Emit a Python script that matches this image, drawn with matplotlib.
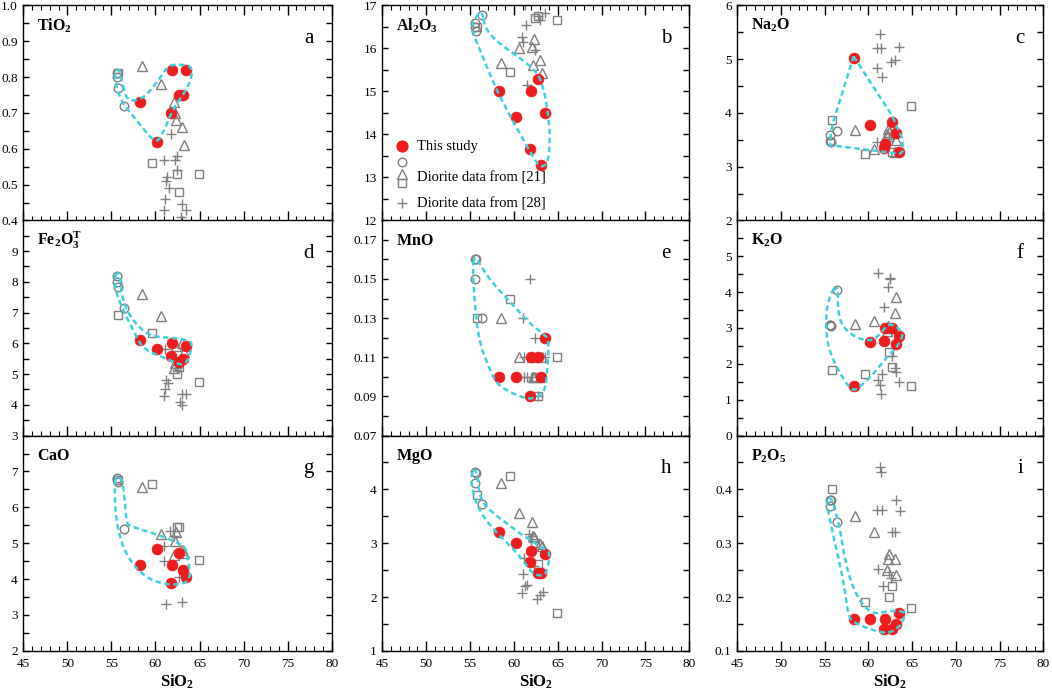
import numpy as np
import matplotlib
matplotlib.use("Agg")
import matplotlib.pyplot as plt
from matplotlib.ticker import FixedLocator, MultipleLocator

plt.rcParams['font.family'] = ['Liberation Serif', 'DejaVu Serif']
plt.rcParams['mathtext.fontset'] = 'custom'
plt.rcParams['mathtext.rm'] = 'Liberation Serif'
plt.rcParams['mathtext.bf'] = 'Liberation Serif:bold'

# ---- data ----
SIO2_THIS = [58.3, 60.2, 61.8, 61.9, 62.7, 63.1, 63.5]
TIO2_THIS = [0.73, 0.62, 0.70, 0.82, 0.75, 0.75, 0.82]
AL2O3_THIS = [15.0, 14.4, 13.66, 15.0, 15.28, 13.3, 14.5]
NA2O_THIS = [5.02, 3.78, 3.35, 3.42, 3.84, 3.63, 3.27]
FE2O3_THIS = [6.1, 5.8, 5.58, 6.0, 5.4, 5.5, 5.92]
MNO_THIS = [0.10, 0.10, 0.09, 0.11, 0.11, 0.10, 0.12]
K2O_THIS = [1.38, 2.6, 2.63, 3.0, 3.0, 2.55, 2.78]
CAO_THIS = [4.4, 4.85, 3.9, 4.4, 4.74, 4.26, 4.06]
MGO_THIS = [3.2, 3.0, 2.65, 2.85, 2.45, 2.45, 2.8]
P2O5_THIS = [0.16, 0.16, 0.14, 0.16, 0.14, 0.15, 0.17]

SIO2_CIRC = [55.6, 55.6, 55.7, 56.4]
TIO2_CIRC = [0.81, 0.80, 0.77, 0.72]
AL2O3_CIRC = [16.6, 16.5, 16.4, 16.78]
NA2O_CIRC = [3.58, 3.48, 3.45, 3.66]
FE2O3_CIRC = [8.2, 8.0, 7.82, 7.15]
MNO_CIRC = [0.16, 0.15, 0.16, 0.13]
K2O_CIRC = [3.07, 3.08, 3.06, 4.07]
CAO_CIRC = [6.82, 6.75, 6.72, 5.4]
MGO_CIRC = [4.32, 4.12, 4.3, 3.72]
P2O5_CIRC = [0.38, 0.37, 0.38, 0.34]

SIO2_TRI = [58.5, 60.6, 62.1, 62.2, 62.3, 63.0, 63.2]
TIO2_TRI = [0.83, 0.78, 0.73, 0.70, 0.68, 0.66, 0.61]
AL2O3_TRI = [15.66, 16.0, 16.04, 15.61, 16.22, 15.73, 15.43]
NA2O_TRI = [3.68, 3.32, 3.6, 3.71, 3.65, 3.27, 3.49]
FE2O3_TRI = [7.6, 6.88, 5.2, 5.35, 5.9, 6.0, 5.7]
MNO_TRI = [0.13, 0.11, 0.11, 0.10, 0.10, 0.10, 0.11]
K2O_TRI = [3.1, 3.19, 2.9, 3.05, 3.0, 3.41, 3.86]
CAO_TRI = [6.56, 5.26, 4.68, 5.07, 5.31, 4.8, 4.72]
MGO_TRI = [4.12, 3.57, 3.39, 3.13, 3.12, 2.98, 2.95]
P2O5_TRI = [0.35, 0.32, 0.25, 0.27, 0.28, 0.27, 0.24]

SIO2_SQ = [55.8, 59.6, 62.4, 62.7, 64.9]
TIO2_SQ = [0.81, 0.56, 0.53, 0.48, 0.53]
AL2O3_SQ = [16.5, 15.44, 16.7, 16.75, 16.67]
NA2O_SQ = [3.87, 3.24, 3.56, 3.27, 4.13]
FE2O3_SQ = [6.92, 6.33, 4.99, 5.24, 4.73]
MNO_SQ = [0.13, 0.14, 0.10, 0.09, 0.11]
K2O_SQ = [1.83, 1.71, 2.33, 1.9, 1.39]
CAO_SQ = [6.77, 6.66, 5.45, 5.45, 4.52]
MGO_SQ = [3.89, 4.25, 3.0, 2.62, 1.7]
P2O5_SQ = [0.40, 0.19, 0.20, 0.22, 0.18]

TIO2_PLUS_X = [61.8, 61.0, 62.2, 62.4, 62.4, 61.35, 61.16, 61.54, 61.08, 60.97, 63.06, 63.5, 62.87]
TIO2_PLUS_Y = [0.64, 0.57, 0.57, 0.58, 0.54, 0.52, 0.51, 0.49, 0.46, 0.43, 0.445, 0.43, 0.41]
AL2O3_PLUS_X = [61.3, 61.4, 60.9, 61.0, 62.4, 62.8, 63.0, 63.5, 61.5]
AL2O3_PLUS_Y = [17.0, 16.54, 16.27, 16.15, 15.96, 16.75, 16.67, 16.81, 15.14]
NA2O_PLUS_X = [61.3, 61.0, 61.4, 63.5, 62.6, 63.0, 61.0, 61.6, 61.0, 62.4, 61.8]
NA2O_PLUS_Y = [5.46, 5.2, 5.2, 5.22, 4.95, 4.98, 4.83, 4.67, 3.46, 3.55, 3.4]
FE2O3_PLUS_X = [61.24, 61.43, 61.08, 60.97, 63.06, 63.52, 62.8, 63.06, 61.05, 62.4]
FE2O3_PLUS_Y = [4.8, 4.7, 4.52, 4.27, 4.35, 4.35, 4.08, 4.0, 5.8, 5.18]
MNO_PLUS_X = [61.8, 61.0, 62.4, 61.1, 63.6, 61.1, 61.5, 62.1, 62.8]
MNO_PLUS_Y = [0.15, 0.13, 0.12, 0.11, 0.11, 0.10, 0.10, 0.10, 0.09]
K2O_PLUS_X = [61.04, 62.45, 62.45, 62.19, 61.77, 62.72, 63.03, 63.1, 61.5, 61.04, 61.3, 61.42, 63.52]
K2O_PLUS_Y = [4.54, 4.4, 4.35, 4.14, 3.59, 2.22, 1.87, 1.78, 1.71, 1.55, 1.41, 1.16, 1.48]
CAO_PLUS_X = [61.65, 60.97, 62.1, 60.97, 62.68, 61.24, 63.06]
CAO_PLUS_Y = [5.33, 4.91, 5.2, 4.49, 4.07, 3.3, 3.35]
MGO_PLUS_X = [61.7, 62.07, 61.12, 61.04, 61.3, 61.5, 60.93, 63.33, 63.03, 62.65, 62.26]
MGO_PLUS_Y = [3.17, 3.13, 2.73, 2.42, 2.2, 2.23, 2.07, 2.09, 2.04, 1.96, 2.57]
P2O5_PLUS_X = [61.31, 61.43, 61.0, 61.6, 63.14, 63.6, 62.64, 63.03, 61.04, 62.38, 62.57, 61.7]
P2O5_PLUS_Y = [0.441, 0.432, 0.361, 0.361, 0.381, 0.36, 0.32, 0.32, 0.252, 0.247, 0.236, 0.221]

# cyan field outlines (traced)
TIO2_HULL_X = [56.10, 56.60, 58.31, 59.83, 61.35, 62.11, 63.82, 64.16, 64.01, 63.25, 62.11, 61.16, 60.21, 59.07, 57.55, 56.48, 55.95, 55.46, 55.38, 55.84]
TIO2_HULL_Y = [0.808, 0.735, 0.735, 0.773, 0.829, 0.835, 0.833, 0.819, 0.791, 0.754, 0.717, 0.661, 0.614, 0.642, 0.689, 0.719, 0.745, 0.782, 0.815, 0.822]
AL2O3_HULL_X = [56.36, 56.74, 58.07, 60.74, 62.64, 63.33, 63.79, 64.09, 64.06, 63.79, 63.14, 62.64, 61.12, 59.21, 57.69, 56.17, 55.33, 55.21, 55.48, 55.98]
AL2O3_HULL_Y = [16.85, 16.46, 16.15, 15.77, 15.45, 15.11, 14.64, 14.10, 13.63, 13.32, 13.24, 13.32, 13.86, 14.56, 15.18, 15.96, 16.35, 16.50, 16.66, 16.81]
NA2O_HULL_X = [58.3, 62.7, 63.8, 64.0, 63.6, 55.6, 55.7, 56.0]
NA2O_HULL_Y = [5.05, 3.95, 3.55, 3.3, 3.24, 3.40, 3.62, 3.85]
FE2O3_HULL_X = [55.65, 55.38, 55.46, 56.41, 57.55, 58.31, 59.26, 60.59, 62.11, 62.87, 63.63, 64.01, 64.13, 63.82, 62.49, 61.35, 59.83, 58.69, 57.55, 56.60, 56.10, 56.03, 55.84]
FE2O3_HULL_Y = [8.28, 8.21, 7.68, 7.03, 6.38, 5.95, 5.73, 5.57, 5.40, 5.29, 5.40, 5.73, 6.0, 6.08, 6.16, 6.18, 6.22, 6.38, 6.71, 7.14, 7.68, 8.11, 8.28]
MNO_HULL_X = [55.59, 55.29, 55.48, 55.98, 57.31, 58.07, 59.60, 61.50, 62.64, 63.60, 63.86, 63.98, 63.41, 61.88, 59.60, 57.31, 55.98, 55.71]
MNO_HULL_Y = [0.1612, 0.1577, 0.1407, 0.1185, 0.1031, 0.0963, 0.0920, 0.0886, 0.0895, 0.0929, 0.1066, 0.1193, 0.1216, 0.1270, 0.1381, 0.1492, 0.1586, 0.1608]
K2O_HULL_X = [56.36, 55.79, 55.21, 55.14, 55.40, 56.36, 57.50, 58.26, 58.95, 60.55, 62.07, 63.22, 63.79, 63.90, 63.41, 62.64, 62.07, 61.31, 60.55, 59.60, 58.64, 57.50, 56.74, 56.47, 56.55]
K2O_HULL_Y = [4.12, 4.03, 3.56, 3.01, 2.45, 1.90, 1.44, 1.25, 1.34, 1.71, 2.18, 2.45, 2.69, 2.82, 3.01, 3.10, 3.06, 2.82, 2.66, 2.66, 2.73, 2.92, 3.19, 3.66, 4.07]
CAO_HULL_X = [55.57, 55.34, 55.46, 55.84, 56.60, 57.93, 59.45, 60.97, 62.11, 63.44, 63.82, 63.94, 63.63, 63.44, 62.87, 61.35, 59.07, 57.17, 56.71, 56.48, 56.22, 55.84]
CAO_HULL_Y = [6.86, 6.68, 5.84, 5.28, 4.72, 4.26, 3.98, 3.87, 3.84, 3.89, 4.03, 4.17, 4.63, 4.86, 4.96, 5.14, 5.33, 5.47, 5.56, 6.30, 6.77, 6.86]
MGO_HULL_X = [55.48, 55.10, 55.33, 55.98, 57.31, 58.83, 60.36, 61.50, 62.26, 63.41, 63.86, 64.09, 63.79, 62.64, 61.12, 59.60, 58.07, 56.55, 55.98, 55.86]
MGO_HULL_Y = [4.385, 4.25, 3.94, 3.63, 3.32, 3.07, 2.82, 2.57, 2.42, 2.39, 2.51, 2.82, 2.85, 2.98, 3.13, 3.32, 3.50, 3.72, 3.97, 4.28]
P2O5_HULL_X = [55.33, 55.21, 55.98, 57.12, 57.69, 58.26, 60.17, 62.07, 63.22, 63.98, 64.17, 63.60, 62.07, 60.93, 59.79, 58.64, 57.50, 56.74, 56.36, 55.98, 55.59]
P2O5_HULL_Y = [0.385, 0.373, 0.314, 0.233, 0.165, 0.153, 0.140, 0.132, 0.140, 0.155, 0.171, 0.174, 0.174, 0.168, 0.177, 0.202, 0.252, 0.326, 0.351, 0.376, 0.385]

NAMES = [r"$\mathbf{TiO_2}$", r"$\mathbf{Al_2O_3}$", r"$\mathbf{Na_2O}$",
         r"$\mathbf{Fe_2O_3^T}$", r"$\mathbf{MnO}$", r"$\mathbf{K_2O}$",
         r"$\mathbf{CaO}$", r"$\mathbf{MgO}$", r"$\mathbf{P_2O_5}$"]
LETTERS = list("abcdefghi")
YLIMS = [(0.4, 1.0), (12, 17), (2, 6), (3, 10), (0.07, 0.18), (0, 6), (2, 8), (1, 5), (0.1, 0.5)]
YMAJOR = [
    [0.4, 0.5, 0.6, 0.7, 0.8, 0.9, 1.0],
    [12, 13, 14, 15, 16, 17],
    [2, 3, 4, 5, 6],
    [3, 4, 5, 6, 7, 8, 9, 10],
    [0.07, 0.09, 0.11, 0.13, 0.15, 0.17],
    [0, 1, 2, 3, 4, 5, 6],
    [2, 3, 4, 5, 6, 7, 8],
    [1, 2, 3, 4, 5],
    [0.1, 0.2, 0.3, 0.4, 0.5],
]
YMINOR = [0.05, 0.5, 0.5, 0.5, 0.01, 0.5, 0.5, 0.5, 0.05]
YFMT = ["%.1f", "%d", "%d", "%d", "%.2f", "%d", "%d", "%d", "%.1f"]

THIS = [TIO2_THIS, AL2O3_THIS, NA2O_THIS, FE2O3_THIS, MNO_THIS, K2O_THIS, CAO_THIS, MGO_THIS, P2O5_THIS]
CIRC = [TIO2_CIRC, AL2O3_CIRC, NA2O_CIRC, FE2O3_CIRC, MNO_CIRC, K2O_CIRC, CAO_CIRC, MGO_CIRC, P2O5_CIRC]
TRI = [TIO2_TRI, AL2O3_TRI, NA2O_TRI, FE2O3_TRI, MNO_TRI, K2O_TRI, CAO_TRI, MGO_TRI, P2O5_TRI]
SQ = [TIO2_SQ, AL2O3_SQ, NA2O_SQ, FE2O3_SQ, MNO_SQ, K2O_SQ, CAO_SQ, MGO_SQ, P2O5_SQ]
PLUS = [(TIO2_PLUS_X, TIO2_PLUS_Y), (AL2O3_PLUS_X, AL2O3_PLUS_Y), (NA2O_PLUS_X, NA2O_PLUS_Y),
        (FE2O3_PLUS_X, FE2O3_PLUS_Y), (MNO_PLUS_X, MNO_PLUS_Y), (K2O_PLUS_X, K2O_PLUS_Y),
        (CAO_PLUS_X, CAO_PLUS_Y), (MGO_PLUS_X, MGO_PLUS_Y), (P2O5_PLUS_X, P2O5_PLUS_Y)]
HULLS = [(TIO2_HULL_X, TIO2_HULL_Y), (AL2O3_HULL_X, AL2O3_HULL_Y), (NA2O_HULL_X, NA2O_HULL_Y),
         (FE2O3_HULL_X, FE2O3_HULL_Y), (MNO_HULL_X, MNO_HULL_Y), (K2O_HULL_X, K2O_HULL_Y),
         (CAO_HULL_X, CAO_HULL_Y), (MGO_HULL_X, MGO_HULL_Y), (P2O5_HULL_X, P2O5_HULL_Y)]
SMOOTH = [True, True, False, True, True, True, True, True, True]

RED = "#ee1c1c"
GREY = "#808080"
CYAN = "#3cd2e2"


def chaikin(x, y, n):
    # corner cutting, closed outline
    pts = np.column_stack([x, y]).astype(float)
    for _ in range(n):
        nxt = np.roll(pts, -1, axis=0)
        q = 0.75 * pts + 0.25 * nxt
        r = 0.25 * pts + 0.75 * nxt
        out = np.empty((2 * len(pts), 2))
        out[0::2] = q
        out[1::2] = r
        pts = out
    pts = np.vstack([pts, pts[:1]])
    return pts[:, 0], pts[:, 1]


W, H = 1052, 691
fig = plt.figure(figsize=(W / 100, H / 100), dpi=100)
col_l = [23.3, 382.3, 737.3]
col_w = [308.4, 307.0, 306.0]
row_t = [5.3, 220.3, 435.6]
row_h = 215.2

for k in range(9):
    r, c = divmod(k, 3)
    ax = fig.add_axes([col_l[c] / W, 1 - (row_t[r] + row_h) / H, col_w[c] / W, row_h / H])
    ax.set_xlim(45, 80)
    ax.set_ylim(*YLIMS[k])

    hx, hy = HULLS[k]
    if SMOOTH[k]:
        hx, hy = chaikin(hx, hy, 3)
    else:
        hx = list(hx) + [hx[0]]
        hy = list(hy) + [hy[0]]

    px, py = PLUS[k]
    ax.plot(px, py, ls="none", marker="+", ms=6.5, mew=1.0, color=GREY, zorder=2)
    ax.plot(SIO2_SQ, SQ[k], ls="none", marker="s", ms=6.2, mfc="none", mec=GREY, mew=1.0, zorder=2)
    ax.plot(SIO2_TRI, TRI[k], ls="none", marker="^", ms=7, mfc="none", mec=GREY, mew=1.0, zorder=2)
    ax.plot(SIO2_CIRC, CIRC[k], ls="none", marker="o", ms=6.2, mfc="none", mec=GREY, mew=1.0, zorder=3)
    ax.plot(SIO2_THIS, THIS[k], ls="none", marker="o", ms=7.8, mfc=RED, mec=RED, mew=0.5, zorder=4)
    ax.plot(hx, hy, color=CYAN, lw=1.8, ls=(0, (2.2, 1.4)), zorder=5)

    # ticks
    ax.xaxis.set_major_locator(MultipleLocator(5))
    ax.xaxis.set_minor_locator(MultipleLocator(1))
    ax.yaxis.set_major_locator(FixedLocator(YMAJOR[k]))
    ax.yaxis.set_minor_locator(MultipleLocator(YMINOR[k]))
    ax.tick_params(axis="x", which="major", direction="in", length=7.5, width=1.0,
                   top=(r == 0), bottom=True, labelbottom=(r == 2), labelsize=9.5, pad=5)
    ax.tick_params(axis="x", which="minor", direction="in", length=3.5, width=0.8,
                   top=(r == 0), bottom=True)
    ax.tick_params(axis="y", which="both", direction="in", length=4.5, width=1.0,
                   left=True, right=True, labelsize=9.5, pad=4)
    labels = [YFMT[k] % v for v in YMAJOR[k]]
    # the top label of lower rows sits under the bottom label of the row above
    if r > 0 and abs(YMAJOR[k][-1] - YLIMS[k][1]) < 1e-9:
        labels[-1] = ""
    ax.set_yticks(YMAJOR[k])
    ax.set_yticklabels(labels)
    for s in ax.spines.values():
        s.set_linewidth(1.0)

    ax.text(0.045, 0.905, NAMES[k], transform=ax.transAxes, fontsize=11.5, ha="left", va="center")
    ax.text(0.925, 0.845, LETTERS[k], transform=ax.transAxes, fontsize=15, ha="center", va="center")

    if r == 2:
        ax.set_xlabel(r"$\mathbf{SiO_2}$", fontsize=12, labelpad=2)

    if k == 1:
        kx, tx = 0.064, 0.113
        ax.plot([kx], [0.345], transform=ax.transAxes, marker="o", ms=7.8, mfc=RED, mec=RED, ls="none")
        ax.plot([kx], [0.270], transform=ax.transAxes, marker="o", ms=6.2, mfc="none", mec=GREY, ls="none")
        ax.plot([kx], [0.218], transform=ax.transAxes, marker="^", ms=7, mfc="none", mec=GREY, ls="none")
        ax.plot([kx], [0.172], transform=ax.transAxes, marker="s", ms=6.2, mfc="none", mec=GREY, ls="none")
        ax.plot([kx], [0.079], transform=ax.transAxes, marker="+", ms=6.5, mew=1.0, color=GREY, ls="none")
        ax.text(tx, 0.345, "This study", transform=ax.transAxes, fontsize=10.5, va="center")
        ax.text(tx, 0.200, "Diorite data from [21]", transform=ax.transAxes, fontsize=10.5, va="center")
        ax.text(tx, 0.079, "Diorite data from [28]", transform=ax.transAxes, fontsize=10.5, va="center")

fig.savefig("out.png", dpi=100)
